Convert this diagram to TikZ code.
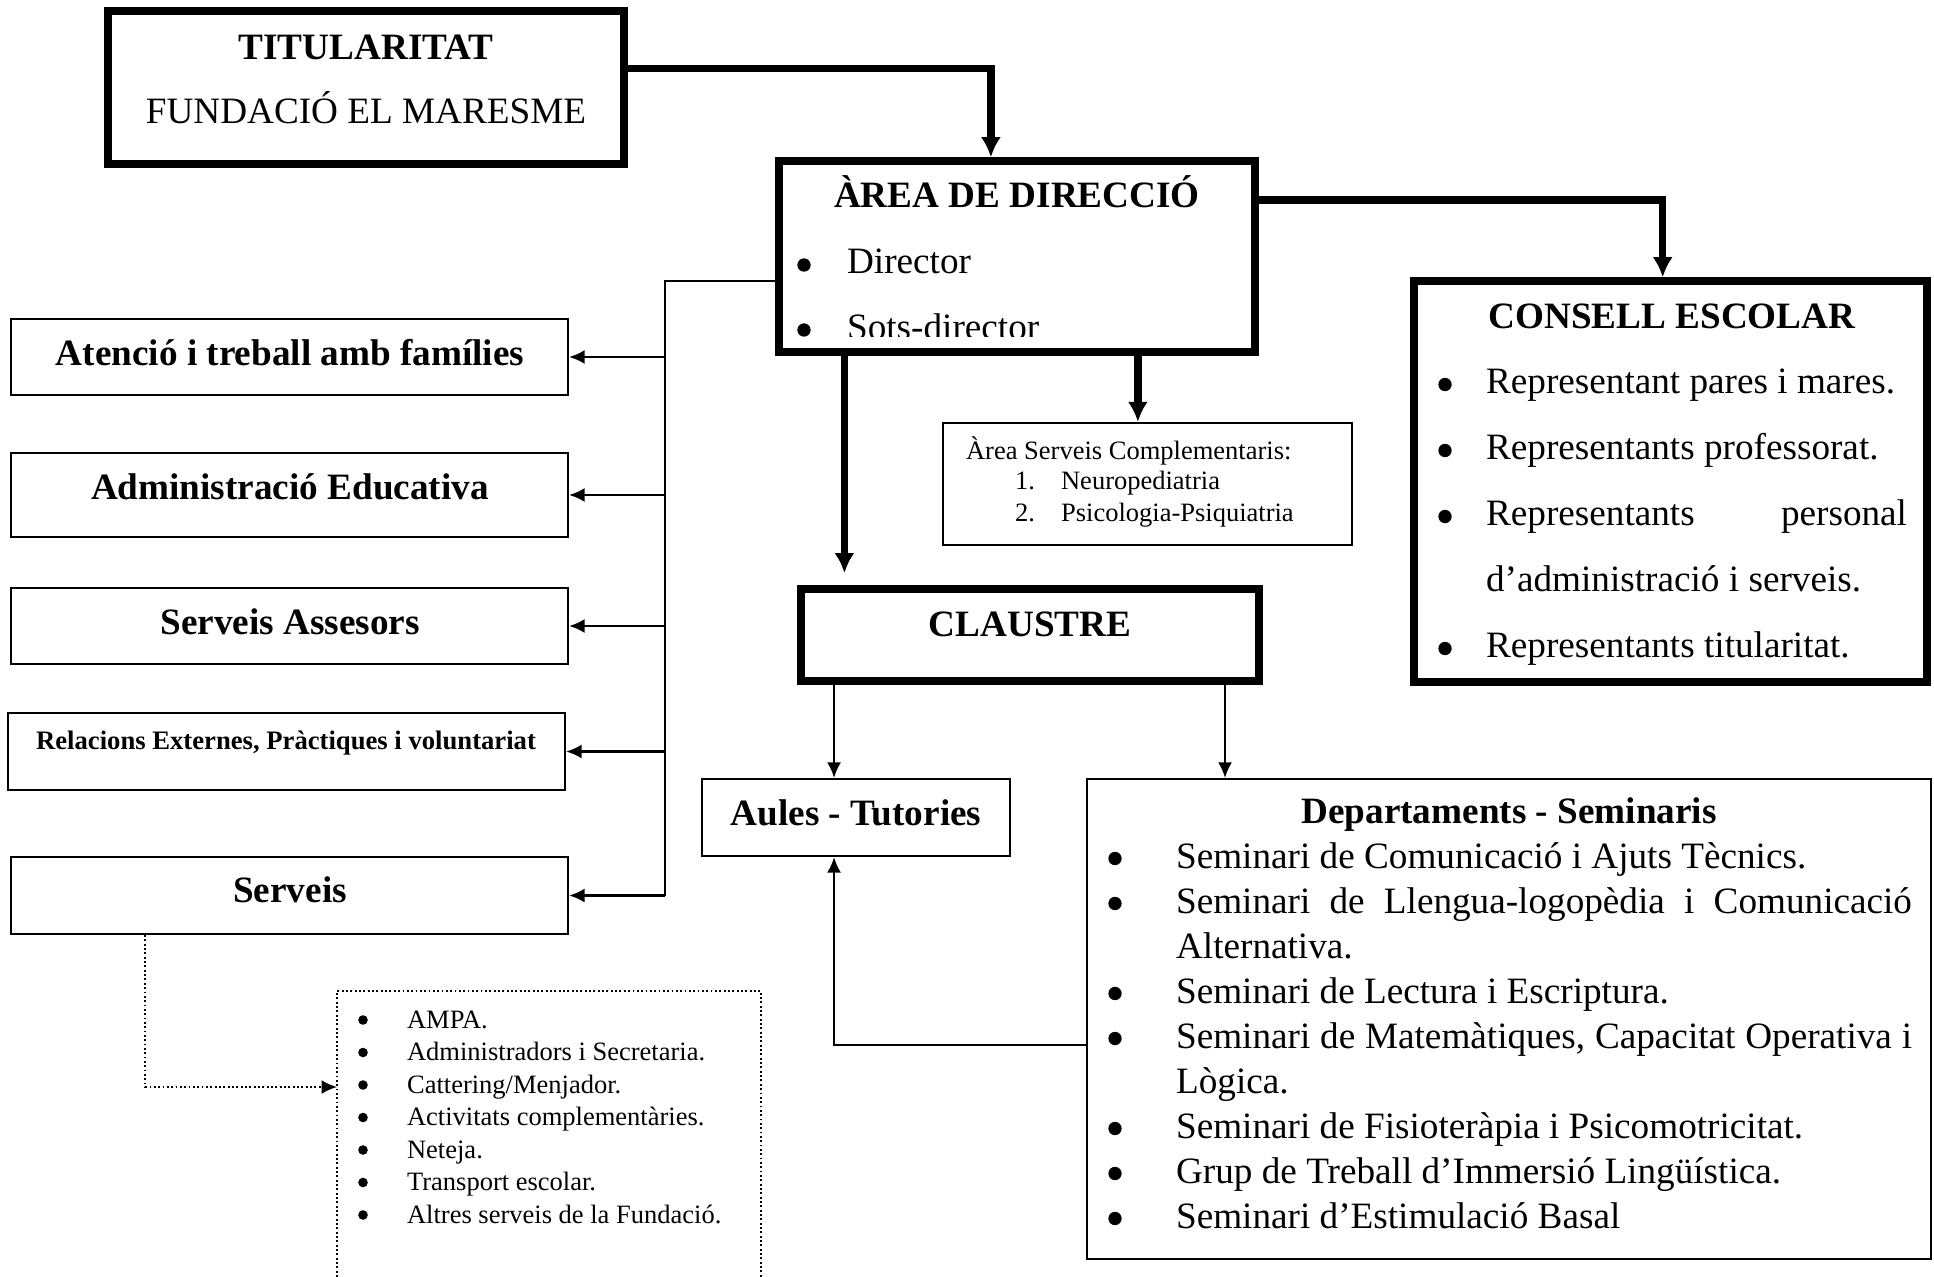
\documentclass[tikz,border=0pt]{standalone}
\usepackage{fontspec}
\setmainfont{Liberation Serif}
\usetikzlibrary{calc,fit,positioning,arrows.meta}

\begin{document}
\begin{tikzpicture}[x=0.3226pt,y=-0.3226pt,>={Latex[length=5pt,width=4.5pt]},line width=0.7pt,
  thicky/.style={line width=2.4pt},
  bigtip/.style={-{Latex[length=6.5pt,width=6.5pt]}},
  dotty/.style={line width=0.6pt,dash pattern=on 0.6pt off 0.8pt},
  bx/.style={draw,inner sep=0pt},
  bul/.style={circle,fill,inner sep=0pt,minimum size=4.3pt},
  sbul/.style={circle,fill,inner sep=0pt,minimum size=3.1pt},
  tx/.style={inner sep=0pt,anchor=base,font={\fontsize{12}{14}\selectfont}},
  tb/.style={inner sep=0pt,anchor=base,font={\fontsize{12}{14}\selectfont\bfseries}},
  ts/.style={inner sep=0pt,anchor=base,font={\fontsize{8.55}{10}\selectfont}},
  tsb/.style={inner sep=0pt,anchor=base,font={\fontsize{8.6}{10}\selectfont\bfseries}}]
\useasboundingbox (0,0) rectangle (1934,1277);
\clip (0,0) rectangle (1934,1277);

% boxes
\node[bx,thicky,fit={(108,11) (624,164)}] (tit) {};
\node[bx,thicky,fit={(779,161) (1255,352)}] (area) {};
\node[bx,thicky,fit={(1414,281) (1927,682)}] (cons) {};
\node[bx,thicky,fit={(801,589) (1259,681)}] (cla) {};
\node[bx,fit={(943,423) (1352,545)}] (comp) {};
\node[bx,fit={(702,779) (1010,856)}] (aul) {};
\node[bx,fit={(1087,779) (1931,1259)}] (dep) {};
\node[bx,fit={(11,319) (568,395)}] (fam) {};
\node[bx,fit={(11,453) (568,537)}] (adm) {};
\node[bx,fit={(11,588) (568,664)}] (ass) {};
\node[bx,fit={(8,713) (565,790)}] (rel) {};
\node[bx,fit={(11,857) (568,934)}] (ser) {};
\node[bx,dotty,fit={(337,991) (761,1330)}] (svl) {};

% thick connectors
\draw[thicky,bigtip] ($(tit.north east)!0.38!(tit.south east)$) -| ($(area.north west)!0.446!(area.north east)$);
\draw[thicky,bigtip] ($(area.north east)!0.215!(area.south east)$) -| ($(cons.north west)!0.485!(cons.north east)$);
\draw[thicky,bigtip,shorten >=3.9pt] ($(area.south west)!0.143!(area.south east)$) coordinate (a1) -- (a1 |- cla.north);
\draw[thicky,bigtip] ($(area.south west)!0.75!(area.south east)$) coordinate (a2) -- (a2 |- comp.north);

% claustre
\draw[->] ($(cla.south west)!0.079!(cla.south east)$) coordinate (c1) -- (c1 |- aul.north);
\draw[->] ($(cla.south west)!0.919!(cla.south east)$) coordinate (c2) -- (c2 |- dep.north);
\draw[->] ($(dep.north west)!0.554!(dep.south west)$) -| (c1 |- aul.south);

% left branch
\coordinate (trunk) at (665,0);
\draw ($(area.north west)!0.623!(area.south west)$) -| (trunk |- ser.east);
\foreach \n in {fam,adm,ass,rel,ser}
  \draw[->] (trunk |- \n.east) -- (\n.east);
\coordinate (cat) at (337,1087);
\draw[dotty,->] ($(ser.south west)!0.242!(ser.south east)$) |- (cat);

% titularitat and direccio
\node[tb] (titA) at (366,60) {TITULARITAT};
\node[tx] (titB) at (366,124) {FUNDACIÓ EL MARESME};
\node[tb] (areaT) at (1017,208) {ÀREA DE DIRECCIÓ};
\node[bul] (dirB1) at (804,265) {};
\node[tx,anchor=base west] (dir1) at (846,274) {Director};
\node[bul] (dirB2) at (804,330) {};
\begin{scope}
\clip (779,161) rectangle (1255,337);
\node[tx,anchor=base west] (dir2) at (846,340) {Sots-director};
\end{scope}

% consell escolar
\node[tb] (consT) at (1672,329) {CONSELL ESCOLAR};
\foreach \t [count=\i] in {{Representant pares i mares.},{Representants professorat.},
    {\makebox[135.8pt][s]{Representants personal}},{d’administració i serveis.},{Representants titularitat.}}
  \node[tx,anchor=base west] (ce\i) at (1485,{394+66*(\i-1)}) {\t};
\foreach \i in {1,2,3,5}
  \node[bul] (ceB\i) at (1445,{384.5+66*(\i-1)}) {};

% serveis complementaris
\node[ts,anchor=base west] (compT) at (965,460) {Àrea Serveis Complementaris:};
\foreach \t [count=\i] in {Neuropediatria,Psicologia-Psiquiatria} {
  \node[ts,anchor=base west] (compN\i) at (1014,{458+32*\i}) {\i.};
  \node[ts,anchor=base west] (comp\i) at (1060,{458+32*\i}) {\t};
}

% left boxes
\node[tb] (famT) at (290,366) {Atenció i treball amb famílies};
\node[tb] (admT) at (290,500) {Administració Educativa};
\node[tb] (assT) at (290,635) {Serveis Assesors};
\node[tsb] (relT) at (286,750) {Relacions Externes, Pràctiques i voluntariat};
\node[tb] (serT) at (290,902) {Serveis};

% serveis list
\foreach \t [count=\i] in {AMPA.,Administradors i Secretaria.,Cattering/Menjador.,
    Activitats complementàries.,Neteja.,Transport escolar.,Altres serveis de la Fundació.} {
  \node[sbul] (svB\i) at (363,{1020+32.5*(\i-1)}) {};
  \node[ts,anchor=base west] (sv\i) at (406,{1028+32.5*(\i-1)}) {\t};
}

% claustre, aules, departaments
\node[tb] (claT) at (1030,637) {CLAUSTRE};
\node[tb] (aulT) at (856,825) {Aules - Tutories};
\node[tb] (depT) at (1509,823) {Departaments - Seminaris};
\foreach \t [count=\i] in {{Seminari de Comunicació i Ajuts Tècnics.},
    {\makebox[237.4pt][s]{Seminari de Llengua-logopèdia i Comunicació}},{Alternativa.},
    {Seminari de Lectura i Escriptura.},
    {\makebox[237.4pt][s]{Seminari de Matemàtiques, Capacitat Operativa i}},{Lògica.},
    {Seminari de Fisioteràpia i Psicomotricitat.},{Grup de Treball d’Immersió Lingüística.},
    {Seminari d’Estimulació Basal}}
  \node[tx,anchor=base west] (dep\i) at (1175,{868+45*(\i-1)}) {\t};
\foreach \i in {1,2,4,5,7,8,9}
  \node[bul] (depB\i) at (1115,{858.5+45*(\i-1)}) {};

\end{tikzpicture}
\end{document}
